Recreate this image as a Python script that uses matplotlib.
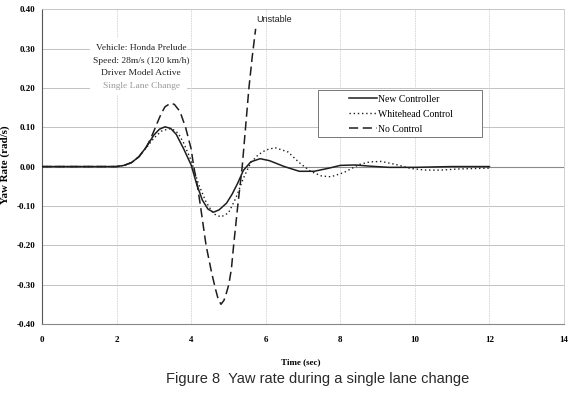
import matplotlib
matplotlib.use("Agg")
import matplotlib.pyplot as plt
from matplotlib.patches import Rectangle
from matplotlib.ticker import FuncFormatter

# ---- data ----
t_new = [0, 2.0, 2.2, 2.4, 2.6, 2.8, 3.0, 3.15, 3.3, 3.45, 3.6, 3.8, 4.0, 4.15, 4.3,
         4.45, 4.6, 4.75, 4.95, 5.1, 5.25, 5.4, 5.6, 5.85, 6.1, 6.5, 6.9, 7.3, 7.7,
         8.0, 8.4, 8.8, 9.3, 10.0, 11.0, 12.0]
y_new = [0, 0, 0.003, 0.01, 0.025, 0.05, 0.08, 0.095, 0.101, 0.097, 0.082, 0.045,
         0.004, -0.045, -0.085, -0.108, -0.116, -0.11, -0.093, -0.07, -0.042, -0.01,
         0.012, 0.02, 0.015, 0.0, -0.012, -0.012, -0.004, 0.003, 0.004, 0.001,
         -0.002, -0.002, 0.0, 0.0]

t_white = [0, 2.0, 2.2, 2.4, 2.6, 2.8, 3.0, 3.2, 3.4, 3.5, 3.65, 3.8, 4.0, 4.2, 4.4,
           4.6, 4.8, 5.0, 5.2, 5.4, 5.6, 5.8, 6.0, 6.25, 6.6, 6.9, 7.2, 7.5, 7.75,
           8.1, 8.5, 8.8, 9.1, 9.5, 9.9, 10.3, 10.7, 11.2, 12.0]
y_white = [0, 0, 0.003, 0.01, 0.025, 0.048, 0.072, 0.09, 0.096, 0.095, 0.085, 0.06,
           0.015, -0.045, -0.09, -0.12, -0.128, -0.118, -0.08, -0.03, 0.01, 0.03,
           0.042, 0.048, 0.037, 0.01, -0.012, -0.024, -0.026, -0.015, 0.005, 0.012,
           0.013, 0.005, -0.005, -0.009, -0.009, -0.006, -0.004]

t_none = [0, 2.0, 2.2, 2.4, 2.6, 2.8, 2.9, 3.0, 3.1, 3.2, 3.3, 3.45, 3.55, 3.7, 3.85,
          4.0, 4.07, 4.17, 4.25, 4.4, 4.55, 4.65, 4.72, 4.8, 4.88, 4.95, 5.01, 5.08,
          5.14, 5.25, 5.37, 5.46, 5.55, 5.64, 5.73]
y_none = [0, 0, 0.003, 0.01, 0.025, 0.05, 0.068, 0.09, 0.113, 0.135, 0.152, 0.161,
          0.158, 0.14, 0.1, 0.045, 0.0, -0.05, -0.1, -0.2, -0.27, -0.31, -0.335,
          -0.35, -0.34, -0.32, -0.3, -0.26, -0.2, -0.1, 0.0, 0.1, 0.2, 0.28, 0.35]

series_labels = ["New Controller", "Whitehead Control", "No Control"]
x_ticks = [0, 2, 4, 6, 8, 10, 12, 14]
y_ticks = [-0.40, -0.30, -0.20, -0.10, 0.00, 0.10, 0.20, 0.30, 0.40]
info_lines = ["Vehicle: Honda Prelude", "Speed: 28m/s (120 km/h)",
              "Driver Model Active", "Single Lane Change"]

# ---- figure ----
serif = ["Liberation Serif", "DejaVu Serif"]
sans = ["Liberation Sans", "DejaVu Sans"]

fig = plt.figure(figsize=(5.8, 3.98), dpi=100)
ax = fig.add_axes([0.0724, 0.186, 0.900, 0.791])
ax.set_xlim(0, 14)
ax.set_ylim(-0.4, 0.4)

for y in y_ticks:
    ax.axhline(y, color="#b8b8b8", lw=0.6, zorder=1)
for x in x_ticks:
    ax.axvline(x, color="#d4d4d4", lw=0.6, ls=(0, (2, 1)), zorder=1)
ax.axhline(0, color="#8a8a8a", lw=0.8, zorder=1)

for s in ["top", "right"]:
    ax.spines[s].set_color("#c8c8c8")
    ax.spines[s].set_linewidth(0.6)
ax.spines["left"].set_color("#555555")
ax.spines["left"].set_linewidth(0.8)
ax.spines["bottom"].set_color("#888888")
ax.spines["bottom"].set_linewidth(0.8)

c = "#1e1e1e"
l1, = ax.plot(t_new, y_new, color=c, lw=1.1, ls="-", zorder=4, label=series_labels[0])
l2, = ax.plot(t_white, y_white, color=c, lw=1.0, ls=(0, (1, 2)), zorder=4, label=series_labels[1])
l3, = ax.plot(t_none, y_none, color=c, lw=1.1, ls=(0, (6, 3)), zorder=4, label=series_labels[2])

ax.set_xticks(x_ticks)
ax.set_yticks(y_ticks)
ax.yaxis.set_major_formatter(FuncFormatter(lambda v, p: f"{v:.2f}".replace("\u2212", "-")))
ax.tick_params(length=0)
ax.tick_params(axis="x", pad=9)
ax.tick_params(axis="y", pad=5)
for lab in ax.get_xticklabels() + ax.get_yticklabels():
    lab.set_fontfamily(serif)
    lab.set_fontweight("bold")
    lab.set_fontsize(6.5)

ax.set_xlabel("Time (sec)", fontfamily=serif, fontweight="bold", fontsize=6.5)
ax.xaxis.set_label_coords(0.495, -0.108)
ax.set_ylabel("Yaw Rate (rad/s)", fontfamily=serif, fontweight="bold", fontsize=7.8)
ax.yaxis.set_label_coords(-0.061, 0.505)

# info box
ax.add_patch(Rectangle((0.092, 0.727), 0.186, 0.181, transform=ax.transAxes,
                       facecolor="white", edgecolor="none", zorder=2))
ys = [0.876, 0.835, 0.797, 0.756]
cols = ["#222222", "#222222", "#222222", "#9a9a9a"]
for txt, yy, cc in zip(info_lines, ys, cols):
    ax.text(0.19, yy, txt, transform=ax.transAxes, ha="center", va="center",
            fontfamily=serif, fontsize=6.8, color=cc, zorder=3)

ax.text(0.444, 0.968, "Unstable", transform=ax.transAxes, ha="center", va="center",
        fontfamily=sans, fontsize=6.5, color="#222222", zorder=5)

# legend box
ax.add_patch(Rectangle((0.529, 0.594), 0.314, 0.149, transform=ax.transAxes,
                       facecolor="white", edgecolor="#777777", lw=0.7, zorder=5))
leg = ax.legend(handles=[l1, l2, l3], loc="upper left", bbox_to_anchor=(0.585, 0.735),
                frameon=False, prop={"family": serif, "size": 7},
                handlelength=2.8, handletextpad=0.15, labelspacing=0.62,
                borderaxespad=0, borderpad=0.2)
leg.set_zorder(6)

fig.text(0.547, 0.047, "Figure 8  Yaw rate during a single lane change",
         ha="center", va="center", fontfamily=sans, fontsize=10.5, color="#2a2a2a")

fig.savefig("out.png", dpi=100, facecolor="white")
